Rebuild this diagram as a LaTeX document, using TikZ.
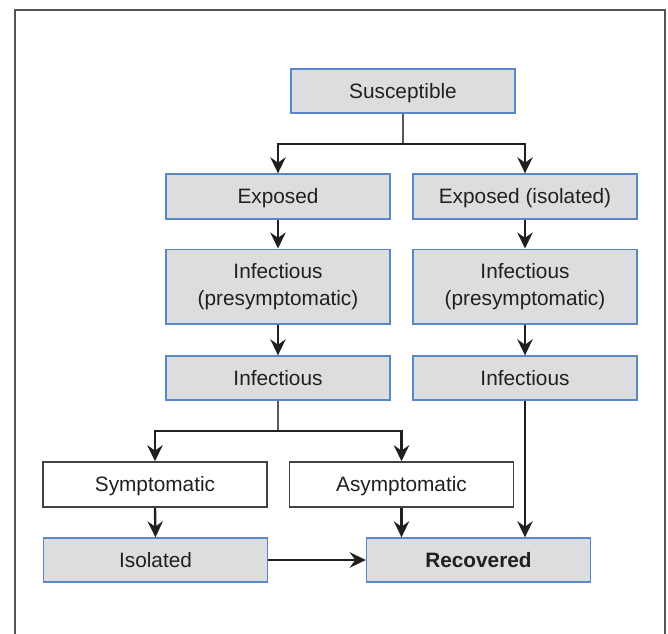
\documentclass[tikz,border=0pt]{standalone}
\usepackage{fontspec}
\setmainfont{Liberation Sans}
\usetikzlibrary{arrows.meta}
\definecolor{boxfill}{HTML}{DCDDDF}
\definecolor{boxblue}{HTML}{5B86C8}
\definecolor{txt}{HTML}{231F20}
\definecolor{framegray}{HTML}{555555}
\tikzset{
  base/.style={rectangle, minimum width=168pt, inner sep=0pt, align=center,
    text=txt, font=\fontsize{15.6pt}{20pt}\selectfont},
  one/.style={text height=11.2pt, text depth=0pt},
  gbox/.style={base, fill=boxfill, draw=boxblue, line width=1pt},
  wbox/.style={base, fill=white, draw=txt!85, line width=1.1pt},
  stem/.style={draw=txt!75, line width=1.3pt},
  arr/.style={draw=txt, line width=1.8pt, -{Stealth[length=12pt,width=11.5pt,inset=4pt]}},
}
\begin{document}
\begin{tikzpicture}[x=0.75pt,y=-0.75pt]
\useasboundingbox (0,0) rectangle (668,633);
\draw[framegray, line width=1.5pt] (14.5,640) -- (14.5,10) -- (665,10) -- (665,640);

\node[gbox, one, minimum height=33pt] (S) at (403,91) {Susceptible};
\node[gbox, one, minimum height=33.75pt] (E) at (278,196.5) {Exposed};
\node[gbox, one, minimum height=33.75pt] (EI) at (525,196.5) {Exposed (isolated)};
\node[gbox, minimum height=56pt] (IP) at (278,286.5) {Infectious\\(presymptomatic)};
\node[gbox, minimum height=56pt] (IPI) at (525,286.5) {Infectious\\(presymptomatic)};
\node[gbox, one, minimum height=33pt] (I) at (278,378) {Infectious};
\node[gbox, one, minimum height=33pt] (II) at (525,378) {Infectious};
\node[wbox, one, minimum height=33.75pt] (Sym) at (155,484.5) {Symptomatic};
\node[wbox, one, minimum height=33.75pt] (Asym) at (401.5,484.5) {Asymptomatic};
\node[gbox, one, minimum height=33pt] (Iso) at (155.5,560) {Isolated};
\node[gbox, one, minimum height=33pt] (Rec) at (478.5,560) {\bfseries Recovered};

\coordinate (b1) at (403,144);
\coordinate (b2) at (278,431);

\draw[stem] (S.south) -- (b1);
\draw[arr] (b1) -| (E.north);
\draw[arr] (b1) -| (EI.north);
\draw[arr] (E.south) -- (IP.north);
\draw[arr] (IP.south) -- (I.north);
\draw[arr] (EI.south) -- (IPI.north);
\draw[arr] (IPI.south) -- (II.north);
\draw[stem] (I.south) -- (b2);
\draw[arr] (b2) -| (Sym.north);
\draw[arr] (b2) -| (Asym.north);
\draw[arr] (Sym.south) -- (Iso.north);
\draw[arr] (Asym.south) -- (Asym.south |- Rec.north);
\draw[arr] (II.south) -- (II.south |- Rec.north);
\draw[arr] (Iso.east) -- (Rec.west);
\end{tikzpicture}
\end{document}
